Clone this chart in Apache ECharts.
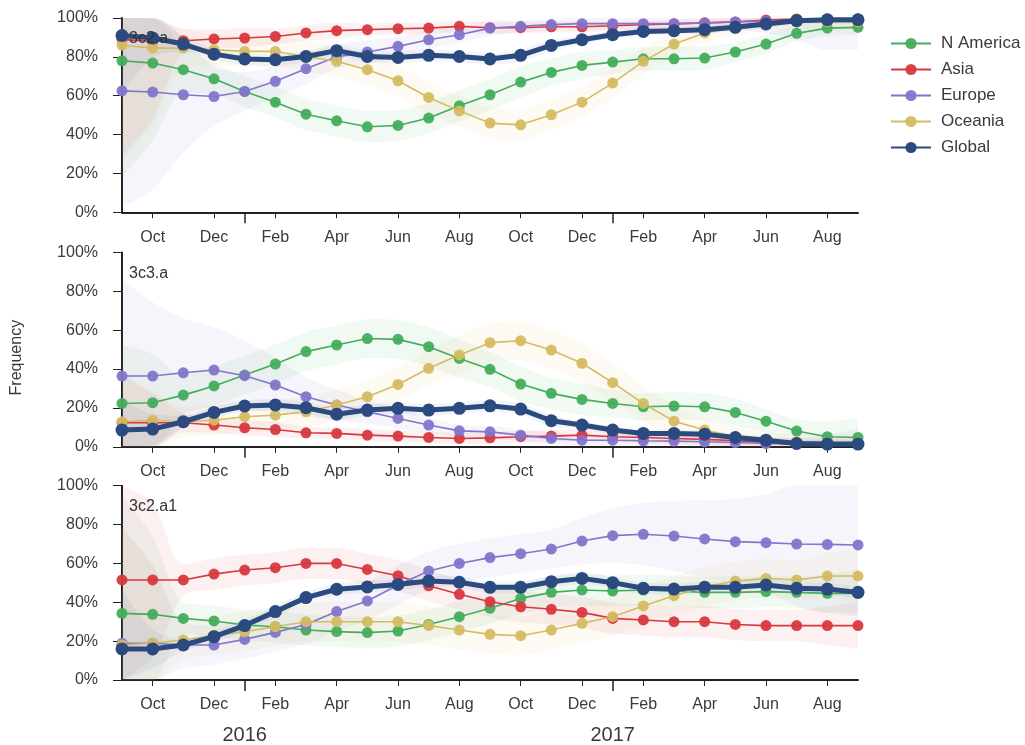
<!DOCTYPE html>
<html>
<head>
<meta charset="utf-8">
<script src="https://cdn.jsdelivr.net/npm/echarts@6/dist/echarts.min.js"></script>
<style>html,body{margin:0;padding:0;background:#fff}#c{width:1025px;height:745px}</style>
</head>
<body>
<div id="c"></div>
<script>
// Monthly time points, Sep 2015 .. Sep 2017
const months = ['Sep','Oct','Nov','Dec','Jan','Feb','Mar','Apr','May','Jun','Jul','Aug',
                'Sep','Oct','Nov','Dec','Jan','Feb','Mar','Apr','May','Jun','Jul','Aug','Sep'];
const yearLabels = {4: '2016', 16: '2017'};
const regions = ['N America','Asia','Europe','Oceania','Global'];
const panelNames = ['3c2.a','3c3.a','3c2.a1'];
const yTicks = [0,20,40,60,80,100];

// Panel 1: 3c2.a
const p1_namerica = [78.0,76.8,73.4,68.7,62.2,56.7,50.5,47.1,44.0,44.7,48.5,54.8,60.5,67.0,72.0,75.6,77.3,79.0,79.0,79.4,82.5,86.6,92.1,94.8,95.2];
const p1_asia     = [89.0,88.0,88.3,89.2,89.7,90.5,92.3,93.5,94.0,94.5,94.8,95.7,95.0,95.0,95.5,95.5,96.0,96.5,97.0,97.5,98.0,99.0,99.5,99.5,99.5];
const p1_europe   = [62.5,61.9,60.5,59.6,62.2,67.4,73.9,80.0,82.5,85.4,88.8,91.4,94.8,95.7,96.6,97.1,97.1,97.1,97.1,97.4,98.0,98.3,98.6,98.6,98.6];
const p1_oceania  = [86.0,84.5,84.5,83.7,82.8,82.8,80.2,77.7,73.4,67.7,59.1,52.2,45.9,45.0,50.2,56.7,66.5,77.7,86.6,92.3,95.0,97.0,98.0,98.0,98.0];
const p1_global   = [91.0,89.7,86.6,81.4,78.9,78.5,80.2,83.2,80.2,79.7,80.8,80.2,78.9,80.8,85.9,88.8,91.4,93.1,93.5,94.0,95.2,96.9,98.6,99.1,99.1];

// Panel 2: 3c3.a
const p2_namerica = [22.3,22.7,26.6,31.3,36.9,42.6,49.0,52.4,55.7,55.3,51.5,45.5,39.9,32.3,27.5,24.4,22.3,20.6,21.0,20.6,17.7,13.2,8.1,5.2,4.8];
const p2_asia     = [12.4,12.4,12.4,11.2,9.8,8.9,7.2,6.9,6.0,5.5,4.8,4.3,4.6,5.2,5.5,6.0,5.2,4.8,4.3,3.8,3.1,2.2,1.4,1.2,1.2];
const p2_europe   = [36.4,36.4,38.1,39.5,36.6,31.8,25.8,21.5,18.0,14.6,11.2,8.2,7.7,6.0,4.3,3.4,3.4,3.1,2.9,2.6,2.2,1.7,1.4,1.2,1.2];
const p2_oceania  = [12.9,13.7,12.9,13.7,15.5,16.3,18.0,21.5,25.8,32.1,40.4,47.3,53.6,54.6,49.8,43.0,33.0,22.3,13.2,8.6,5.2,3.4,2.6,2.1,2.1];
const p2_global   = [8.6,9.1,12.9,17.7,21.0,21.5,20.1,16.8,18.9,19.8,18.9,19.8,21.1,19.4,13.4,11.2,8.6,6.9,6.9,6.5,4.8,3.4,1.7,1.4,1.4];

// Panel 3: 3c2.a1
const p3_namerica = [34.3,33.8,31.7,30.4,28.3,27.4,25.7,24.9,24.4,25.2,28.6,32.6,36.9,42.0,45.1,46.3,45.8,46.3,45.8,45.1,45.1,45.5,45.1,44.6,44.6];
const p3_asia     = [51.5,51.5,51.5,54.5,56.6,57.8,60.0,60.0,56.9,53.7,48.5,44.1,40.3,37.7,36.4,34.8,31.7,30.9,30.0,30.0,28.6,28.0,28.0,28.0,28.0];
const p3_europe   = [18.9,18.9,18.0,18.0,20.9,24.5,28.6,35.2,40.7,48.9,56.1,60.0,63.0,65.0,67.4,71.5,74.3,75.0,74.1,72.6,71.2,70.7,70.0,69.8,69.5];
const p3_oceania  = [18.0,18.9,20.6,23.0,24.9,27.4,30.0,30.0,30.0,30.0,28.0,25.7,23.5,22.8,25.7,29.2,32.6,38.1,43.4,48.0,50.9,52.3,51.5,53.5,53.5];
const p3_global   = [16.0,16.0,18.0,22.3,28.0,35.2,42.4,46.7,47.9,49.2,50.9,50.3,47.7,47.7,50.6,52.3,50.1,47.2,46.8,47.7,47.7,48.9,47.2,46.8,45.1];

// Uncertainty band half-widths (percentage points), read from the shaded areas
const p1_namerica_w = [60,40,12,8,8,8,8,8,8,8,8,8,8,8,7,7,6,6,6,6,5,5,4,4,4];
const p1_asia_w     = [60,40,6,5,5,4,4,4,3,3,3,3,3,3,3,3,2,2,2,2,2,2,2,2,2];
const p1_europe_w   = [60,50,30,15,10,8,8,6,6,5,5,4,4,3,3,3,3,3,3,3,4,6,10,15,15];
const p1_oceania_w  = [60,40,10,8,8,8,8,8,8,8,8,8,8,8,8,8,8,7,6,5,4,4,4,4,4];
const p1_global_w   = [30,10,4,3,3,3,3,3,3,3,3,3,3,3,3,2,2,2,2,2,2,2,2,2,2];
const p2_namerica_w = [30,25,10,10,10,10,10,10,10,10,10,10,9,9,8,8,7,7,7,7,7,6,6,8,10];
const p2_asia_w     = [25,15,5,4,4,4,3,3,3,3,3,3,3,3,3,3,3,3,3,3,3,3,3,3,3];
const p2_europe_w   = [50,38,28,22,18,14,10,8,6,5,4,3,3,3,3,3,3,3,3,3,3,3,3,5,8];
const p2_oceania_w  = [25,15,8,8,8,8,8,8,8,9,9,10,10,10,10,10,10,9,8,6,5,4,4,4,4];
const p2_global_w   = [15,8,3,3,3,3,3,3,3,3,3,3,3,3,3,2,2,2,2,2,2,2,2,2,2];
const p3_namerica_w = [60,40,8,8,8,8,8,8,8,8,8,8,8,8,8,8,8,8,8,8,8,8,8,10,12];
const p3_asia_w     = [60,40,8,8,8,8,8,8,8,8,8,8,8,8,8,8,8,8,8,8,8,8,8,10,12];
const p3_europe_w   = [60,40,12,10,10,10,10,10,10,10,10,10,10,10,10,12,14,16,18,20,22,25,32,35,35];
const p3_oceania_w  = [60,40,10,10,10,10,10,10,10,10,10,10,10,10,10,10,10,10,10,10,10,10,10,12,14];
const p3_global_w   = [30,10,3,3,3,3,3,3,3,3,3,3,3,3,3,3,3,3,3,3,3,3,3,3,3];

const colors = {'N America':'#43ad5c','Asia':'#d8383f','Europe':'#8275cb','Oceania':'#d5bc62','Global':'#2a4a80'};

const panels = [
  [p1_namerica,p1_asia,p1_europe,p1_oceania,p1_global],
  [p2_namerica,p2_asia,p2_europe,p2_oceania,p2_global],
  [p3_namerica,p3_asia,p3_europe,p3_oceania,p3_global]
];
const widths = [
  [p1_namerica_w,p1_asia_w,p1_europe_w,p1_oceania_w,p1_global_w],
  [p2_namerica_w,p2_asia_w,p2_europe_w,p2_oceania_w,p2_global_w],
  [p3_namerica_w,p3_asia_w,p3_europe_w,p3_oceania_w,p3_global_w]
];

const gridTops = [18, 252.5, 485.7];
const gridH = 194.3;
const textColor = '#3a3a3a';
const font = 'Liberation Sans, Arial, sans-serif';

const grid = [], xAxis = [], yAxis = [], series = [], title = [];
gridTops.forEach((t, p) => {
  grid.push({left: 122, width: 736, top: t, height: gridH});
  // main category axis
  xAxis.push({
    type: 'category', gridIndex: p, data: months, boundaryGap: false, position: 'bottom',
    axisLine: {lineStyle: {color: '#222', width: 2}},
    axisTick: {show: true, length: 6, interval: (i) => i % 2 === 1, lineStyle: {color: '#222', width: 1}},
    axisLabel: {interval: (i) => i % 2 === 1, color: textColor, fontSize: 16, fontFamily: font, margin: 17}
  });
  // year axis (long tick at January, year labels on bottom panel)
  xAxis.push({
    type: 'category', gridIndex: p, data: months, boundaryGap: false, position: 'bottom',
    axisLine: {show: false},
    axisTick: {show: true, length: 11, interval: (i) => yearLabels[i] !== undefined, lineStyle: {color: '#222', width: 1.5}},
    axisLabel: {show: p === 2, interval: (i) => yearLabels[i] !== undefined,
      formatter: (v, i) => yearLabels[i] || '', color: textColor, fontSize: 20, fontFamily: font, margin: 45}
  });
  yAxis.push({
    type: 'value', gridIndex: p, min: 0, max: 100, interval: 20,
    name: p === 1 ? 'Frequency' : '', nameLocation: 'middle', nameGap: 97, nameRotate: 90,
    nameTextStyle: {color: textColor, fontSize: 16, fontFamily: font, padding: [0, 16, 0, 0]},
    splitLine: {show: false},
    axisLine: {show: true, lineStyle: {color: '#222', width: 2}},
    axisTick: {show: true, length: 9, lineStyle: {color: '#222', width: 1}},
    axisLabel: {formatter: '{value}%', color: textColor, fontSize: 16, fontFamily: font, margin: 24}
  });
  title.push({text: panelNames[p], left: 124, top: t + 8,
    textStyle: {fontSize: 16, fontWeight: 'normal', color: '#333', fontFamily: font}});

  // bands
  regions.forEach((r, k) => {
    const v = panels[p][k], w = widths[p][k];
    const lower = v.map((x, i) => Math.max(0, x - w[i]));
    const diff = v.map((x, i) => Math.min(100, x + w[i]) - lower[i]);
    const stack = 'band' + p + '_' + k;
    const common = {type: 'line', xAxisIndex: p * 2, yAxisIndex: p, stack: stack, symbol: 'none',
      silent: true, smooth: 0.3, lineStyle: {opacity: 0}, z: 1};
    series.push(Object.assign({name: stack + 'lo', data: lower}, common));
    series.push(Object.assign({name: stack + 'hi', data: diff,
      areaStyle: {color: colors[r], opacity: r === 'Global' ? 0.06 : 0.075}}, common));
  });
  // lines
  regions.forEach((r, k) => {
    const g = r === 'Global';
    series.push({
      name: r, type: 'line', xAxisIndex: p * 2, yAxisIndex: p, data: panels[p][k],
      color: colors[r], symbol: 'circle', symbolSize: g ? 13 : 11,
      lineStyle: {width: g ? 5 : 1.6, color: colors[r]},
      itemStyle: {color: colors[r], opacity: g ? 1 : 0.95},
      z: g ? 5 : 3, animation: false
    });
  });
});

const chart = echarts.init(document.getElementById('c'), null, {renderer: 'canvas'});
chart.setOption({
  animation: false,
  backgroundColor: '#fff',
  title: title,
  grid: grid, xAxis: xAxis, yAxis: yAxis, series: series,
  legend: {
    data: regions, orient: 'vertical', left: 885, top: 30, itemGap: 9,
    itemWidth: 40, itemHeight: 14,
    textStyle: {color: textColor, fontSize: 17, fontFamily: font, padding: [0, 0, 0, 5]}
  }
});
</script>
</body>
</html>
